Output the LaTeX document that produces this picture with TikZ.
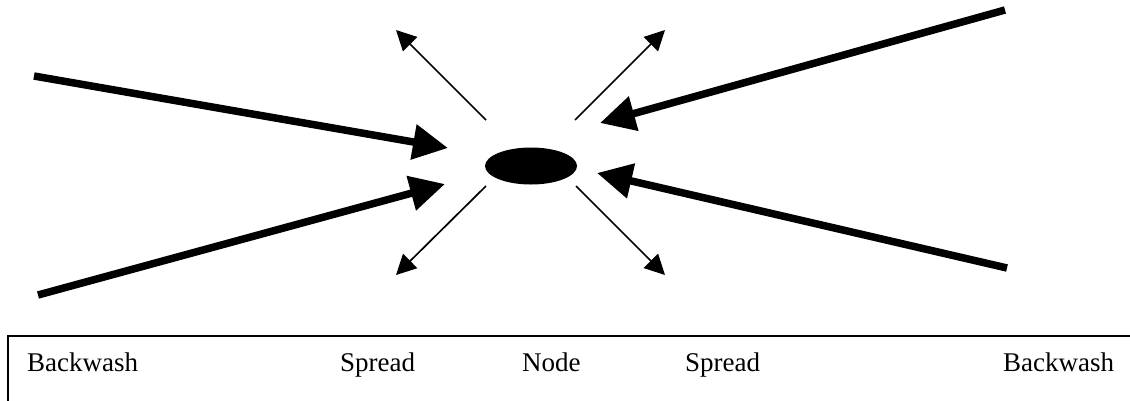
\documentclass[tikz,border=0pt]{standalone}
\usepackage{fontspec}
\setmainfont{Liberation Serif}
\usetikzlibrary{arrows.meta, shapes.geometric}

\begin{document}
\begin{tikzpicture}[x=1pt, y=-1pt,
        backwash/.style={line width=7.5pt, -{Triangle[length=35pt, width=34pt]}},
        spread/.style={line width=1.7pt, -{Triangle[length=20pt, width=20pt]}},
        label/.style={anchor=base west, inner sep=0pt, font=\fontsize{27}{31}\selectfont}]
                    \useasboundingbox (0,0) rectangle (1130,400);
                    \node[ellipse, fill=black, inner sep=0pt, minimum width=92pt, minimum height=37pt] (hub) at (531,166) {};
                    \coordinate (tlout) at (34,76);
                    \coordinate (tlin) at (448,148);
                    \coordinate (blout) at (38,295);
                    \coordinate (blin) at (445,184);
                    \coordinate (trout) at (1005,10);
                    \coordinate (trin) at (600,123);
                    \coordinate (brout) at (1007,268);
                    \coordinate (brin) at (597,173);
                    \draw[backwash] (tlout) -- (tlin);
                    \draw[backwash] (blout) -- (blin);
                    \draw[backwash] (trout) -- (trin);
                    \draw[backwash] (brout) -- (brin);
                    \coordinate (sptl) at (486,120);
                    \coordinate (sptr) at (575,120);
                    \coordinate (spbl) at (486,186);
                    \coordinate (spbr) at (576,186);
                    \coordinate (sptlend) at (396,30);
                    \coordinate (sptrend) at (665,30);
                    \coordinate (spblend) at (396,275);
                    \coordinate (spbrend) at (665,275);
                    \draw[spread] (sptl) -- (sptlend);
                    \draw[spread] (sptr) -- (sptrend);
                    \draw[spread] (spbl) -- (spblend);
                    \draw[spread] (spbr) -- (spbrend);
                    \draw[line width=2pt] (8,336) rectangle (1140,420);
                    \node[label] (bwleft) at (27,371) {Backwash};
                    \node[label] (spleft) at (340,371) {Spread};
                    \node[label] (nodelabel) at (522,371) {Node};
                    \node[label] (spright) at (685,371) {Spread};
                    \node[label] (bwright) at (1003,371) {Backwash};
                \end{tikzpicture}
\end{document}
